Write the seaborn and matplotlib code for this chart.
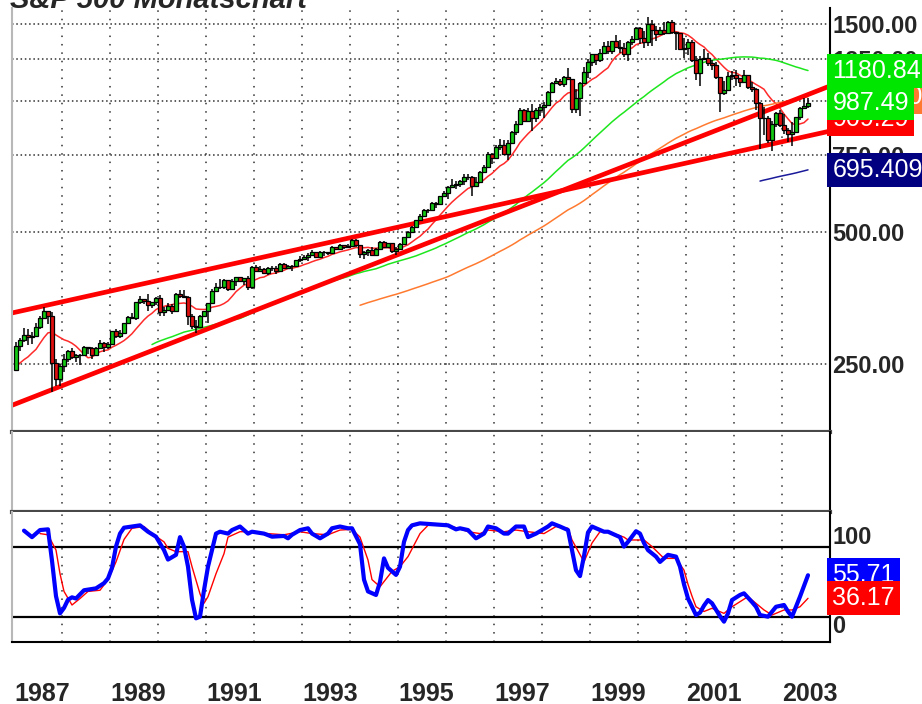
import numpy as np
import pandas as pd
import matplotlib
matplotlib.use('Agg')
import matplotlib.pyplot as plt
import matplotlib.transforms as mtransforms
from matplotlib.ticker import NullLocator
import seaborn as sns

sns.set_style('white')
plt.rcParams['font.family'] = ['Liberation Sans', 'DejaVu Sans']

# S&P 500 Monatsschlusskurse Dez 1985 - Dez 1986 (nur für die Durchschnitte)
closes_prior = [211.28, 211.78, 226.92, 238.90, 235.52, 247.35, 250.84, 236.12, 252.93, 231.32, 243.98, 249.22, 242.17]

# Monatskerzen Jan 1987 - Jul 2003
closes = [
    274.08, 284.20, 291.70, 288.36, 290.10, 304.00, 318.66, 329.80, 321.83, 251.79, 230.30, 247.08,
    257.07, 267.82, 258.89, 261.33, 262.16, 273.50, 272.02, 261.52, 271.91, 278.97, 273.70, 277.72,
    297.47, 288.86, 294.87, 309.64, 320.52, 317.98, 346.08, 351.45, 349.15, 340.36, 345.99, 353.40,
    329.08, 331.89, 339.94, 330.80, 361.23, 358.02, 356.15, 322.56, 306.05, 304.00, 322.22, 330.22,
    343.93, 367.07, 375.22, 375.34, 389.83, 371.16, 387.81, 395.43, 387.86, 392.46, 375.22, 417.09,
    408.79, 412.70, 403.69, 414.95, 415.35, 408.14, 424.21, 414.03, 417.80, 418.68, 431.35, 435.71,
    438.78, 443.38, 451.67, 440.19, 450.19, 450.53, 448.13, 463.56, 458.93, 467.83, 461.79, 466.45,
    481.61, 467.14, 445.77, 450.91, 456.50, 444.27, 458.26, 475.49, 462.69, 472.35, 453.69, 459.27,
    470.42, 487.39, 500.71, 514.71, 533.40, 544.75, 562.06, 561.88, 584.41, 581.50, 605.37, 615.93,
    636.02, 640.43, 645.50, 654.17, 669.12, 670.63, 639.95, 651.99, 687.31, 705.27, 757.02, 740.74,
    786.16, 790.82, 757.12, 801.34, 848.28, 885.14, 954.29, 899.47, 947.28, 914.62, 955.40, 970.43,
    980.28, 1049.34, 1101.75, 1111.75, 1090.82, 1133.84, 1120.67, 957.28, 1017.01, 1098.67, 1163.63, 1229.23,
    1279.64, 1238.33, 1286.37, 1335.18, 1301.84, 1372.71, 1328.72, 1320.41, 1282.71, 1362.93, 1388.91, 1469.25,
    1394.46, 1366.42, 1498.58, 1452.43, 1420.60, 1454.60, 1430.83, 1517.68, 1436.51, 1429.40, 1314.95, 1320.28,
    1366.01, 1239.94, 1160.33, 1249.46, 1255.82, 1224.42, 1211.23, 1133.58, 1040.94, 1059.78, 1139.45, 1148.08,
    1130.20, 1106.73, 1147.39, 1076.92, 1067.14, 989.82, 911.62, 916.07, 815.28, 885.76, 936.31, 879.82,
    855.70, 841.15, 848.18, 916.92, 963.59, 974.50, 987.49,
]
highs = [
    281, 287, 302, 301, 296, 310, 322, 337, 330, 328, 256, 250,
    263, 269, 272, 264, 264, 275, 274, 273, 273, 284, 280, 280,
    298, 300, 299, 310, 322, 327, 347, 358, 352, 361, 347, 356,
    360, 338, 344, 343, 363, 369, 369, 357, 325, 315, 324, 331,
    344, 371, 382, 391, 391, 390, 391, 396, 396, 393, 398, 418,
    421, 418, 414, 417, 419, 418, 425, 425, 422, 422, 432, 441,
    443, 449, 456, 452, 453, 454, 452, 465, 464, 470, 469, 471,
    482, 483, 469, 454, 458, 462, 460, 477, 478, 474, 473, 464,
    472, 489, 503, 516, 534, 551, 565, 565, 586, 587, 607, 622,
    637, 664, 656, 659, 680, 679, 673, 670, 691, 714, 762, 761,
    794, 818, 815, 812, 852, 899, 961, 960, 964, 983, 965, 986,
    992, 1051, 1105, 1131, 1123, 1139, 1190, 1122, 1066, 1103, 1193, 1245,
    1281, 1282, 1317, 1365, 1375, 1373, 1419, 1381, 1357, 1374, 1411, 1474,
    1479, 1445, 1553, 1528, 1482, 1475, 1517, 1526, 1530, 1440, 1431, 1390,
    1384, 1376, 1268, 1264, 1316, 1286, 1240, 1226, 1134, 1110, 1163, 1173,
    1177, 1131, 1174, 1148, 1106, 1071, 994, 966, 925, 900, 941, 955,
    935, 865, 896, 920, 966, 1015, 1016,
]
lows = [
    242, 268, 281, 276, 278, 288, 301, 316, 308, 216, 222, 223,
    240, 252, 256, 253, 249, 260, 263, 256, 260, 271, 266, 271,
    276, 286, 287, 292, 308, 316, 315, 342, 343, 330, 335, 341,
    322, 322, 331, 325, 329, 354, 354, 307, 300, 294, 302, 321,
    310, 342, 365, 371, 371, 368, 371, 377, 384, 378, 370, 372,
    405, 405, 401, 400, 409, 401, 407, 412, 413, 407, 417, 428,
    432, 431, 442, 436, 436, 442, 444, 447, 455, 457, 459, 460,
    465, 464, 437, 435, 442, 442, 444, 456, 460, 460, 449, 445,
    457, 468, 485, 500, 513, 531, 542, 554, 561, 570, 579, 604,
    597, 633, 627, 634, 643, 660, 605, 639, 650, 684, 703, 716,
    737, 773, 756, 733, 798, 837, 884, 895, 897, 855, 895, 925,
    912, 979, 1047, 1092, 1084, 1075, 1114, 940, 939, 923, 1094, 1131,
    1205, 1207, 1226, 1282, 1278, 1282, 1328, 1290, 1263, 1233, 1342, 1387,
    1350, 1325, 1339, 1339, 1374, 1419, 1416, 1430, 1426, 1305, 1310, 1254,
    1274, 1228, 1118, 1081, 1243, 1204, 1178, 1124, 945, 1032, 1054, 1114,
    1081, 1075, 1106, 1064, 1048, 953, 776, 834, 800, 769, 873, 872,
    841, 807, 789, 847, 902, 961, 962,
]

# gleitende Durchschnitte (Monate) und ihre Farben
ma_windows = [10, 48, 100, 200]
ma_colors = ['#ff2a2a', '#1ee61e', '#ff7a30', '#1a1a9a']

# Trendlinien: Monat (0 = Jan 1987) und Kurs an den Enden
trend_upper_months = [-1, 203.5]
trend_upper_values = [327, 853]
trend_lower_months = [-1, 203.5]
trend_lower_values = [201, 1082]

# Stochastik (Monat, Wert)
k_months = [2, 4, 6, 8, 9, 10, 11, 12, 13, 14, 15, 17, 20, 22, 23, 24, 25, 26, 27, 31, 33, 35, 37, 38, 40,
            41, 42, 43, 44, 45, 46, 47, 48, 49, 50, 51, 53, 54, 56, 58, 59, 62, 64, 67, 68, 69, 71, 73, 74,
            76, 78, 79, 81, 83, 84, 86, 87, 88, 90, 91, 92, 93, 95, 96, 97, 98, 99, 101, 104, 108, 110,
            111, 113, 115, 117, 118, 120, 122, 123, 125, 127, 128, 130, 133, 134, 136, 138, 139, 140, 141,
            142, 143, 144, 145, 147, 148, 151, 152, 153, 155, 156, 157, 158, 160, 161, 163, 165, 166, 167,
            168, 169, 170, 171, 172, 173, 174, 176, 177, 178, 179, 181, 182, 184, 185, 186, 188, 190, 192,
            193, 194, 196, 198]
k_values = [93.5, 88, 94, 94.6, 68, 38, 23.4, 28, 35, 37, 36, 43, 44.6, 49, 53, 62, 80, 91, 96, 98, 92.6, 88.4,
            77, 69, 73, 88, 80, 63, 35, 19.2, 20.6, 43, 63, 77, 91, 92.6, 91, 94, 97, 91, 92.6, 91, 88.4, 89,
            87, 90, 94, 95.5, 91, 87, 91, 95.5, 97, 95.5, 95.5, 82, 52, 42, 39, 50, 70, 62, 56, 63, 84, 94,
            98, 99.7, 99, 98, 94.6, 95.5, 94, 87, 91, 97, 95.5, 91, 91, 97, 97, 88, 91, 97, 99.7, 97, 94, 77,
            60, 55, 72, 92, 97, 95.5, 92.6, 92.6, 88, 80, 84, 93, 91, 83, 77, 71.5, 67, 73, 71.5, 63, 48,
            36, 29, 22, 24, 30, 34.7, 32, 21, 16.4, 23.4, 34.7, 39, 40.4, 33, 29, 22, 20.6, 29, 30.5, 25,
            20.6, 37.6, 55.71]
d_months = [6, 8, 10, 11, 12, 14, 16, 18, 21, 23, 25, 27, 29, 32, 34, 37, 38, 40, 43, 44, 46, 47, 48, 50, 52,
            53, 56, 59, 63, 67, 71, 74, 78, 81, 84, 86, 88, 89, 91, 94, 96, 98, 101, 103, 108, 111, 113, 116,
            118, 122, 125, 128, 132, 135, 138, 139, 142, 144, 146, 148, 152, 153, 157, 159, 162, 165, 167,
            168, 169, 170, 172, 174, 177, 179, 183, 184, 187, 189, 192, 194, 196, 198]
d_values = [91, 90, 77, 57, 42, 30.5, 36, 42, 43, 52, 67, 86, 95.5, 97, 91, 84, 78.5, 75.7, 75.7, 63, 40, 32,
            37.6, 57, 74, 88, 92.6, 92.6, 91, 90, 92.6, 91, 90, 94, 94.6, 88, 68.6, 52, 46, 59, 63, 71.5, 91,
            98, 98, 95, 92.6, 91, 94, 92.6, 94, 92.6, 91, 97, 95.5, 85.6, 67, 83, 92.6, 92.6, 88, 85.6, 85.6,
            80, 70, 70, 60, 48, 38, 29, 25, 27.7, 23.4, 29, 37.6, 34.7, 26.3, 22, 26.3, 26.3, 29, 36.17]

price_ticks = [250, 500, 750, 1000, 1250, 1500]
year_labels = ['1987', '', '1989', '', '1991', '', '1993', '', '1995', '', '1997', '', '1999', '', '2001', '', '2003']

# ---------------------------------------------------------------
months = np.arange(len(closes))
full = pd.Series(closes_prior + closes)
opens = full.shift(1).values[len(closes_prior):]
c = np.array(closes)
up = c >= opens
year_bounds = np.arange(len(year_labels)) * 12 - 0.5

fig = plt.figure(figsize=(9.22, 7.04), dpi=100)
W, H = 922, 704
def box(x0, y0, x1, y1):
    return [x0 / W, 1 - y1 / H, (x1 - x0) / W, (y1 - y0) / H]

ax = fig.add_axes(box(12, 8, 830, 432))
ax_mid = fig.add_axes(box(12, 432, 830, 512))
ax_st = fig.add_axes(box(12, 512, 830, 642))

vdots = (0, (1, 4.5))
hdots = (0, (1, 1.8))

for a in (ax, ax_mid, ax_st):
    a.set_xlim(-1, 203.5)
    a.set_facecolor('white')
    for bnd in year_bounds[1:]:
        a.axvline(bnd, color='#303030', lw=1.1, ls=vdots, zorder=0.5)
    a.spines['left'].set_color('#b8b8b8')
    a.spines['left'].set_linewidth(1.5)
    a.spines['right'].set_color('black')
    a.spines['right'].set_linewidth(1.5)
    a.spines['top'].set_visible(False)

# --- Kurschart ---
ax.set_yscale('log')
ax.set_ylim(174.6, 1632)
for v in price_ticks:
    ax.axhline(v, color='#303030', lw=1.1, ls=hdots, zorder=0.5)

ma_values = []
for w, col in zip(ma_windows, ma_colors):
    ma = full.rolling(w).mean().values[len(closes_prior):]
    ma_values.append(ma)
    sns.lineplot(x=months, y=ma, ax=ax, color=col, lw=1.1, zorder=2)

sns.lineplot(x=trend_upper_months, y=trend_upper_values, ax=ax, color='#ff0000', lw=3.4, zorder=2.5)
sns.lineplot(x=trend_lower_months, y=trend_lower_values, ax=ax, color='#ff0000', lw=3.4, zorder=2.5)

ax.vlines(months, lows, highs, color='black', lw=1.1, zorder=3)
body_lo = np.minimum(opens, c)
body_h = np.abs(c - opens)
ax.bar(months, body_h, bottom=body_lo, width=0.8,
       color=np.where(up, '#14c814', '#e01010'), edgecolor='black', linewidth=0.9, zorder=4)

ax.set_xticks(year_bounds)
ax.tick_params(axis='x', length=0, labelbottom=False)
ax.yaxis.tick_right()
ax.set_yticks(price_ticks, labels=[f'{v:.2f}' for v in price_ticks], fontweight='bold', fontsize=17)
ax.yaxis.set_minor_locator(NullLocator())
ax.tick_params(axis='y', length=0, pad=1.5)
ax.spines['bottom'].set_color('#484848')
ax.spines['bottom'].set_linewidth(3)
ax.set_xlabel('')
ax.set_ylabel('')

trans = mtransforms.blended_transform_factory(ax.transAxes, ax.transData)
tag_x = 1.003
def tag(a, tr, val, text, fc, z):
    a.text(tag_x, val, text, transform=tr, ha='left', va='center', color='white', fontsize=18,
           bbox=dict(boxstyle='square,pad=0.2', fc=fc, ec='none'), clip_on=False, zorder=z)

tag(ax, trans, ma_values[2][-1], '1022.50', ma_colors[2], 10)
tag(ax, trans, ma_values[0][-1], '909.29', '#ff0000', 11)
tag(ax, trans, closes[-1], '987.49', '#00e600', 12)
tag(ax, trans, ma_values[1][-1], '1180.84', '#00e600', 12)
tag(ax, trans, ma_values[3][-1], '695.409', '#000080', 12)

# --- leeres Zwischenfenster ---
ax_mid.set_ylim(0, 1)
ax_mid.set_xticks([])
ax_mid.set_yticks([])
ax_mid.spines['bottom'].set_color('#484848')
ax_mid.spines['bottom'].set_linewidth(3)

# --- Stochastik ---
ax_st.set_ylim(-0.85, 109.3)
ax_st.axhline(80, color='black', lw=1.6, zorder=1)
ax_st.axhline(20, color='black', lw=1.6, zorder=1)
sns.lineplot(x=d_months, y=d_values, ax=ax_st, color='#ff0000', lw=1.0, zorder=2)
sns.lineplot(x=k_months, y=k_values, ax=ax_st, color='#0000ff', lw=3.0, zorder=3)
ax_st.set_xlabel('')
ax_st.set_ylabel('')
ax_st.set_yticks([])
ax_st.spines['bottom'].set_color('black')
ax_st.spines['bottom'].set_linewidth(1.5)
ax_st.set_xticks(year_bounds, labels=year_labels, ha='left', fontweight='bold', fontsize=18)
ax_st.tick_params(axis='x', direction='inout', length=7, width=1.5, pad=25)

trans_st = mtransforms.blended_transform_factory(ax_st.transAxes, ax_st.transData)
ax_st.text(1.003, 88, '100', transform=trans_st, ha='left', va='center', fontsize=17,
           fontweight='bold', clip_on=False)
ax_st.text(1.003, 12.5, '0', transform=trans_st, ha='left', va='center', fontsize=17,
           fontweight='bold', clip_on=False)
tag(ax_st, trans_st, k_values[-1], f'{k_values[-1]:.2f}', '#0000ff', 12)
tag(ax_st, trans_st, d_values[-1], f'{d_values[-1]:.2f}', '#ff0000', 12)

fig.text(10 / W, 1 - 8 / H, 'S&P 500 Monatschart', fontsize=21, fontweight='bold',
         fontstyle='italic', va='baseline')

fig.savefig('out.png', dpi=100, facecolor='white')
